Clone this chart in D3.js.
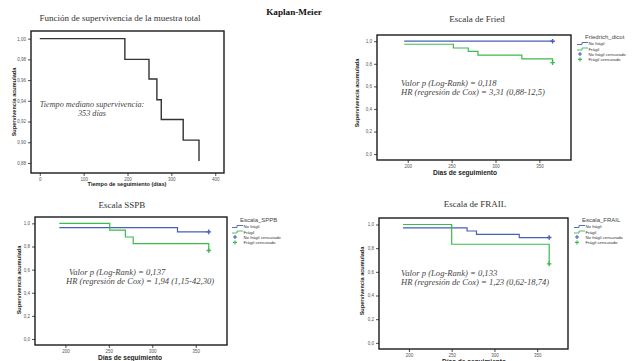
<!DOCTYPE html>
<html><head><meta charset="utf-8">
<script src="https://cdn.jsdelivr.net/npm/d3@7"></script>
<style>
body{margin:0;background:#fff}
svg{display:block}
.serif{font-family:"Liberation Serif","Times New Roman",serif}
.sans{font-family:"Liberation Sans",Arial,sans-serif}
</style>
</head><body>
<svg id="chart" width="644" height="361"></svg>
<script>
// Whole sample survival function
const totalDays = [0, 194, 249, 267, 277, 327, 363];
const totalSurv = [1, 0.980, 0.961, 0.941, 0.922, 0.902, 0.882];

// Fried scale
const friedNoFragilDays = [196, 365];
const friedNoFragilSurv = [1, 1];
const friedFragilDays = [196, 252, 269, 280, 330, 365];
const friedFragilSurv = [0.973, 0.94, 0.91, 0.876, 0.843, 0.81];

// SPPB scale
const sppbNoFragilDays = [193, 329, 365];
const sppbNoFragilSurv = [0.963, 0.926, 0.926];
const sppbFragilDays = [193, 251, 269, 278, 365];
const sppbFragilSurv = [1, 0.941, 0.882, 0.824, 0.765];

// FRAIL scale
const frailNoFragilDays = [193, 268, 279, 329, 364];
const frailNoFragilSurv = [0.972, 0.945, 0.917, 0.89, 0.89];
const frailFragilDays = [193, 250, 364];
const frailFragilSurv = [1, 0.833, 0.667];

// Tick labels
const totalXTicks = [0, 100, 200, 300, 400];
const totalYTicks = [0.88, 0.90, 0.92, 0.94, 0.96, 0.98, 1.00];
const followTicks = [200, 250, 300, 350];
const survTicks = [0, 0.2, 0.4, 0.6, 0.8, 1.0];

const legendLabels = ["No frágil", "Frágil", "No frágil censurado", "Frágil censurado"];

const BLUE = "#4660b4";
const GREEN = "#3cbb4c";

const svg = d3.select("#chart");
const comma = (d, n) => d3.format("." + n + "f")(d).replace(".", ",");

const zip = (xs, ys) => xs.map((x, i) => ({x, y: ys[i]}));

function panel(o) {
  const g = svg.append("g");
  const x = d3.scaleLinear().domain(o.xDomain).range([o.box[0], o.box[1]]);
  const y = d3.scaleLinear().domain(o.yDomain).range([o.box[3], o.box[2]]);

  // axes
  const ax = d3.axisBottom(x).tickValues(o.xTicks).tickSize(3).tickPadding(1.5).tickFormat(d3.format("d"));
  const ay = d3.axisLeft(y).tickValues(o.yTicks).tickSize(3).tickPadding(2).tickFormat(d => comma(d, o.yDec));
  const gx = g.append("g").attr("transform", `translate(0,${o.box[3]})`).call(ax);
  const gy = g.append("g").attr("transform", `translate(${o.box[0]},0)`).call(ay);
  [gx, gy].forEach(a => {
    a.select(".domain").remove();
    a.selectAll("line").attr("stroke", "#222").attr("stroke-width", 0.8);
    a.selectAll("text").attr("class", "sans").attr("font-size", 4.5).attr("fill", "#555");
  });

  // frame
  g.append("rect")
    .attr("x", o.box[0]).attr("y", o.box[2])
    .attr("width", o.box[1] - o.box[0]).attr("height", o.box[3] - o.box[2])
    .attr("fill", "none").attr("stroke", "#1a1a1a").attr("stroke-width", 1.4);

  // survival steps
  const line = d3.line().x(d => x(d.x)).y(d => y(d.y)).curve(d3.curveStepAfter);
  o.series.forEach(s => {
    const pts = zip(s.days, s.surv);
    g.append("path").attr("d", line(pts)).attr("fill", "none")
      .attr("stroke", s.color).attr("stroke-width", s.width || 1.2);
    if (s.censor) {
      const p = pts[pts.length - 1];
      const cx = x(p.x), cy = y(p.y);
      g.append("path").attr("d", `M${cx - 2.3},${cy}H${cx + 2.3}M${cx},${cy - 2.3}V${cy + 2.3}`)
        .attr("stroke", s.color).attr("stroke-width", 1.4);
    }
  });

  // titles and labels
  g.append("text").attr("class", "serif").attr("x", o.title[0]).attr("y", o.title[1])
    .attr("text-anchor", "middle").attr("font-size", 9).attr("fill", "#333").text(o.title[2]);
  g.append("text").attr("class", "sans").attr("font-weight", "bold").attr("font-size", o.xlab[3])
    .attr("x", o.xlab[0]).attr("y", o.xlab[1]).attr("text-anchor", "middle").attr("fill", "#222")
    .text(o.xlab[2]);
  g.append("text").attr("class", "sans").attr("font-weight", "bold").attr("font-size", 5.6)
    .attr("transform", `translate(${o.ylab[0]},${o.ylab[1]}) rotate(-90)`)
    .attr("text-anchor", "middle").attr("fill", "#222").text("Supervivencia acumulada");

  o.notes.forEach(n => {
    g.append("text").attr("class", "serif").attr("font-style", "italic").attr("font-size", o.noteSize || 8.6)
      .attr("fill", "#444").attr("x", n[0]).attr("y", n[1])
      .attr("text-anchor", n[3] || "start").text(n[2]);
  });

  if (o.legend) {
    const [lx, ly, title] = o.legend;
    const lg = g.append("g");
    lg.append("text").attr("class", "sans").attr("font-size", 6).attr("fill", "#444")
      .attr("x", lx).attr("y", ly + 2).text(title);
    const offs = [6.5, 12, 17, 22.4];
    const cols = [BLUE, GREEN, BLUE, GREEN];
    const sx = lx - 8;
    offs.forEach((dy, i) => {
      const cy = ly + dy;
      if (i < 2) {
        lg.append("path").attr("d", `M${sx},${cy + 1}H${sx + 5}V${cy - 1}H${sx + 11}`)
          .attr("fill", "none").attr("stroke", cols[i]).attr("stroke-width", 0.9);
      } else {
        const cx = sx + 3;
        lg.append("path").attr("d", `M${cx - 2},${cy}H${cx + 2}M${cx},${cy - 2}V${cy + 2}`)
          .attr("stroke", cols[i]).attr("stroke-width", 1.1);
      }
      lg.append("text").attr("class", "sans").attr("font-size", 4.3).attr("fill", "#333")
        .attr("x", lx + 3.5).attr("y", cy + 1.5).text(legendLabels[i]);
    });
  }
}

// Main heading
svg.append("text").attr("class", "serif").attr("x", 294).attr("y", 15)
  .attr("text-anchor", "middle").attr("font-weight", "bold").attr("font-size", 9.2)
  .attr("fill", "#111").text("Kaplan-Meier");

const followDomain = [165, 386];
const survDomain = [-0.052, 1.055];

panel({
  box: [31, 224, 31, 173], xDomain: [-20, 420], yDomain: [0.8703, 1.0074],
  xTicks: totalXTicks, yTicks: totalYTicks, yDec: 2,
  series: [{days: totalDays, surv: totalSurv, color: "#333", censor: false, width: 1.4}],
  title: [120, 21, "Función de supervivencia de la muestra total"],
  xlab: [127, 186, "Tiempo de seguimiento (días)", 5.6],
  ylab: [16, 102],
  noteSize: 8.2,
  notes: [[92, 107, "Tiempo mediano supervivencia:", "middle"], [92, 116, "353 días", "middle"]]
});

panel({
  box: [377, 571, 35, 160], xDomain: followDomain, yDomain: survDomain,
  xTicks: followTicks, yTicks: survTicks, yDec: 1,
  series: [
    {days: friedNoFragilDays, surv: friedNoFragilSurv, color: BLUE, censor: true},
    {days: friedFragilDays, surv: friedFragilSurv, color: GREEN, censor: true}
  ],
  title: [477, 22, "Escala de Fried"],
  xlab: [465, 175, "Días de seguimiento", 6.6],
  ylab: [359, 93],
  notes: [[401, 86, "Valor p (Log-Rank) = 0,118"], [401, 95, "HR (regresión de Cox) = 3,31 (0,88-12,5)"]],
  legend: [585, 37, "Friedrich_dicot"]
});

panel({
  box: [35, 227, 217, 345], xDomain: followDomain, yDomain: survDomain,
  xTicks: followTicks, yTicks: survTicks, yDec: 1,
  series: [
    {days: sppbNoFragilDays, surv: sppbNoFragilSurv, color: BLUE, censor: true},
    {days: sppbFragilDays, surv: sppbFragilSurv, color: GREEN, censor: true}
  ],
  title: [122, 208, "Escala SSPB"],
  xlab: [130, 360, "Días de seguimiento", 6.6],
  ylab: [21, 280],
  notes: [[69, 275, "Valor p (Log-Rank) = 0,137"], [66, 284, "HR (regresión de Cox) = 1,94 (1,15-42,30)"]],
  legend: [240, 220, "Escala_SPPB"]
});

panel({
  box: [379, 568, 218, 349], xDomain: followDomain, yDomain: survDomain,
  xTicks: followTicks, yTicks: survTicks, yDec: 1,
  series: [
    {days: frailNoFragilDays, surv: frailNoFragilSurv, color: BLUE, censor: true},
    {days: frailFragilDays, surv: frailFragilSurv, color: GREEN, censor: true}
  ],
  title: [475, 207, "Escala de FRAIL"],
  xlab: [474, 363.5, "Días de seguimiento", 6.6],
  ylab: [364, 281],
  notes: [[401, 276, "Valor p (Log-Rank) = 0,133"], [401, 285, "HR (regresión de Cox) = 1,23 (0,62-18,74)"]],
  legend: [582, 220, "Escala_FRAIL"]
});
</script>
</body></html>
